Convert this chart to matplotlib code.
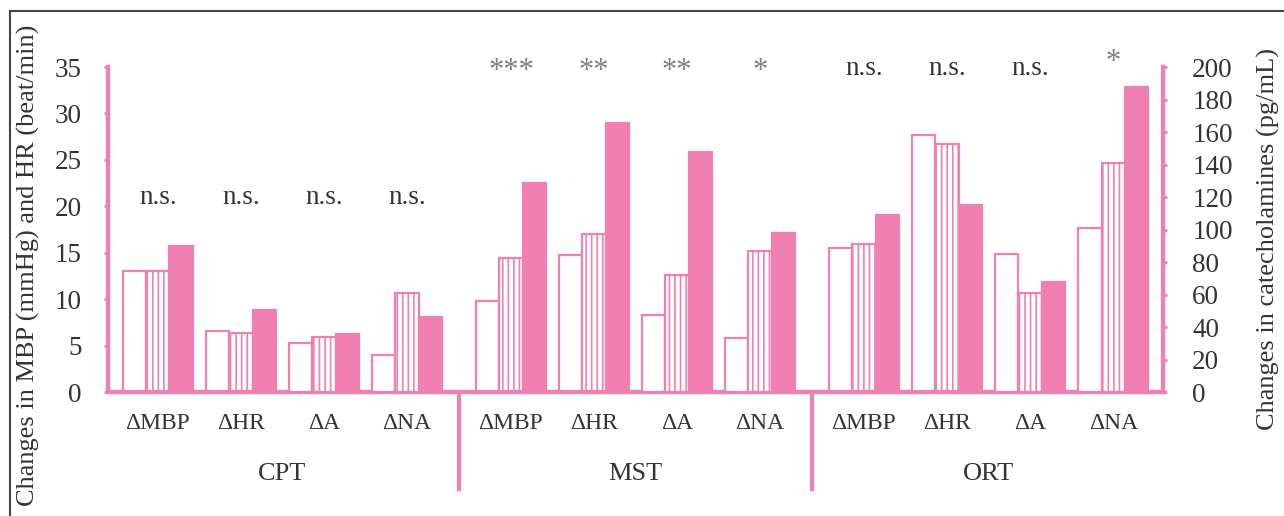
"""Cardiovascular and catecholamine responses to CPT, MST and ORT."""

import matplotlib

matplotlib.use("Agg")
import matplotlib.pyplot as plt
from matplotlib.lines import Line2D

plt.rcParams["font.family"] = ["Liberation Serif", "DejaVu Serif"]
plt.rcParams["hatch.linewidth"] = 1.2

PINK = "#f07fb2"
TEXT = "#333333"

groups = ["CPT", "MST", "ORT"]
categories = ["\u0394MBP", "\u0394HR", "\u0394A", "\u0394NA"]

# per group: values for [MBP, HR] in mmHg / beat/min (left axis)
# and [A, NA] in pg/mL (right axis); three bars each (open, striped, filled)
open_vals = {
    "CPT": [13.0, 6.6, 30.0, 23.0],
    "MST": [9.8, 14.8, 47.5, 33.5],
    "ORT": [15.5, 27.7, 85.0, 101.0],
}
striped_vals = {
    "CPT": [13.0, 6.4, 34.0, 61.0],
    "MST": [14.4, 17.0, 72.0, 87.0],
    "ORT": [15.9, 26.7, 61.0, 141.0],
}
filled_vals = {
    "CPT": [15.7, 8.8, 36.0, 46.0],
    "MST": [22.5, 29.0, 148.0, 98.0],
    "ORT": [19.1, 20.1, 68.0, 188.0],
}
significance = {
    "CPT": ["n.s.", "n.s.", "n.s.", "n.s."],
    "MST": ["***", "**", "**", "*"],
    "ORT": ["n.s.", "n.s.", "n.s.", "*"],
}

LEFT_MAX = 35
RIGHT_MAX = 200
GROUP_STEP = 4.25
BAR_W = 0.28

fig = plt.figure(figsize=(12.84, 5.16), dpi=100)
ax = fig.add_axes([0.0841, 0.2403, 0.8217, 0.6297])
ax2 = ax.twinx()

for g, group in enumerate(groups):
    for i, cat in enumerate(categories):
        x = g * GROUP_STEP + i
        right = i >= 2
        target = ax2 if right else ax
        vals = [open_vals[group][i], striped_vals[group][i], filled_vals[group][i]]
        target.bar(x - BAR_W, vals[0], BAR_W, color="white", edgecolor=PINK,
                   linewidth=1.6, zorder=3)
        target.bar(x, vals[1], BAR_W, color="white", edgecolor=PINK,
                   hatch="|||", linewidth=1.6, zorder=3)
        target.bar(x + BAR_W, vals[2], BAR_W, color=PINK, edgecolor=PINK,
                   linewidth=1.6, zorder=3)

        ax.text(x, -3.4, cat, ha="center", va="center", fontsize=17, color=TEXT)
        label = significance[group][i]
        if label == "n.s.":
            y = 20.9 if group == "CPT" else 34.9
            ax.text(x, y, label, ha="center", va="center", fontsize=19.5,
                    color=TEXT)
        else:
            y = 35.5 if (group == "ORT") else 34.5
            ax.text(x, y, label, ha="center", va="center", fontsize=22,
                    color="#808080")
    ax.text(g * GROUP_STEP + 1.5, -8.8, group, ha="center", va="center",
            fontsize=19, color=TEXT)

# vertical dividers between the three tests
for g in range(1, len(groups)):
    xd = g * GROUP_STEP - (GROUP_STEP - 3) / 2
    ax.add_line(Line2D([xd, xd], [0, -10.5], color=PINK, linewidth=3,
                       clip_on=False, zorder=4))

ax.set_xlim(-0.6, 12.1)
ax.set_ylim(0, LEFT_MAX)
ax2.set_ylim(0, RIGHT_MAX)
ax.set_xticks([])

for a in (ax, ax2):
    a.spines["top"].set_visible(False)
    for side in ("bottom", "left", "right"):
        a.spines[side].set_color(PINK)
        a.spines[side].set_linewidth(3)
    a.patch.set_visible(False)

ax.set_yticks(range(0, LEFT_MAX + 1, 5))
ax.tick_params(axis="y", length=3, width=2, color=PINK, labelsize=19.5,
               labelcolor=TEXT, pad=16)
ax2.set_yticks(range(0, RIGHT_MAX + 1, 20))
ax2.tick_params(axis="y", length=3, width=2, color=PINK, labelsize=19.5,
                labelcolor=TEXT, pad=18)

ax.set_ylabel("Changes in MBP (mmHg) and HR (beat/min)", fontsize=19,
              color=TEXT)
ax.yaxis.set_label_coords(-0.064, 0.39)
ax2.set_ylabel("Changes in catecholamines (pg/mL)", fontsize=19,
               color=TEXT, rotation=90)
ax2.yaxis.set_label_coords(1.089, 0.47)

# frame around the figure (top and left edges visible)
fig.add_artist(Line2D([10 / 1284, 1.0], [1 - 11 / 516, 1 - 11 / 516],
                      color="#444444", linewidth=1.5))
fig.add_artist(Line2D([10 / 1284, 10 / 1284], [0.0, 1 - 11 / 516],
                      color="#444444", linewidth=1.5))

fig.savefig("out.png", dpi=100, facecolor="white")
